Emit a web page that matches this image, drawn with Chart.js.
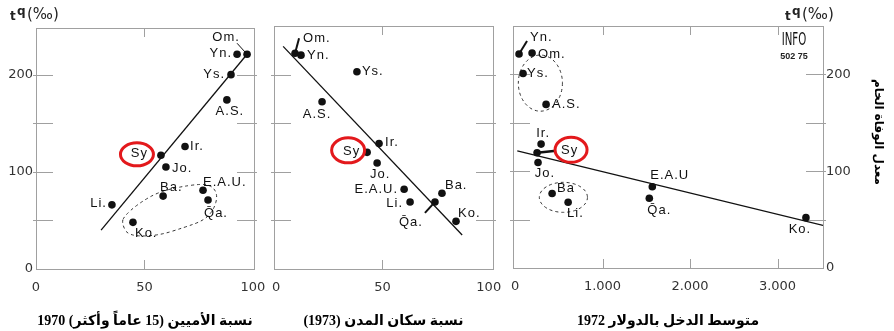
<!DOCTYPE html>
<html>
<head>
<meta charset="utf-8">
<title>معدل الوفاة الخام</title>
<script src="https://cdn.jsdelivr.net/npm/chart.js"></script>
<style>
  html, body { margin: 0; padding: 0; background: #fff; }
  body { width: 894px; height: 331px; position: relative; overflow: hidden; }
  canvas { position: absolute; top: 0; }
  #c1 { left: 0; }
  #c2 { left: 262px; }
  #c3 { left: 500px; }
</style>
</head>
<body>
<canvas id="c1" width="272" height="331"></canvas>
<canvas id="c2" width="246" height="331"></canvas>
<canvas id="c3" width="394" height="331"></canvas>
<script>
// البلدان (بنفس الترتيب في كل المصفوفات)
const countries = ['Om.', 'Yn.', 'Ys.', 'A.S.', 'Ir.', 'Sy', 'Jo.', 'Ba.', 'E.A.U.', 'Q\u0304a.', 'Li.', 'Ko.'];
const countries3 = ['Om.', 'Yn.', 'Ys.', 'A.S.', 'Ir.', 'Sy', 'Jo.', 'Ba', 'E.A.U', 'Q\u0304a.', 'Li.', 'Ko.'];

// نسبة الأميين 1970 / معدل الوفاة
const illiteracy1970 = [97.3, 92.7, 89.9, 88, 68.7, 57.6, 59.9, 58.6, 77, 79.3, 35, 44.7];
const deathRate1 = [221, 221, 200, 174, 126, 117, 105, 75, 81, 71, 66, 48];
const fitIlliteracy = [30, 97.3];
const fitIlliteracyRate = [40, 221];

// نسبة سكان المدن 1973
const urban1973 = [8.9, 11.7, 38, 21.6, 48.4, 42.8, 47.5, 78, 60.2, 74.7, 63, 84.6];
const deathRate2 = [222, 220, 203, 172, 129, 120, 109, 78, 82, 69, 69, 49];
const fitUrban = [3.3, 87.5];
const fitUrbanRate = [229, 35];

// متوسط الدخل بالدولار 1972
const income1972 = [195, 46, 92, 355, 298, 252, 263, 424, 1569, 1535, 607, 3325];
const deathRate3 = [222, 221, 201, 169, 128, 119, 109, 77, 84, 72, 68, 52];
const fitIncome = [26, 3520];
const fitIncomeRate = [121, 44];

// التدريجات
const rateTicks = [0, 50, 100, 150, 200];
const rateLabels = ['0', '', '100', '', '200'];
const percentTicks = [0, 50, 100];
const percentLabels = ['0', '50', '100'];
const incomeTicks = [0, 1000, 2000, 3000];
const incomeLabels = ['0', '1.000', '2.000', '3.000'];

const captions = [
  'نسبة الأميين (15 عاماً وأكثر) 1970',
  'نسبة سكان المدن (1973)',
  'متوسط الدخل بالدولار 1972'
];
const rateTitle = 'معدل الوفاة الخام';

// مواضع أسماء البلدان: [dx, dy, align]
const labelPos1 = [[-21,-17,'center'],[-5,-1,'right'],[-6,0,'right'],[3,12,'center'],[5,0,'left'],[-13,-2,'right'],
                   [6,1,'left'],[-3,-9,'left'],[0,-8,'left'],[-4,13,'left'],[-5,-1,'right'],[2,11,'left']];
const labelPos2 = [[8,-15,'left'],[6,0,'left'],[5,0,'left'],[-5,13,'center'],[6,-1,'left'],[-7,-1,'right'],
                   [3,11,'center'],[3,-8,'left'],[-6,0,'right'],[-24,20,'center'],[-7,1,'right'],[2,-8,'left']];
const labelPos3 = [[6,1,'left'],[11,-17,'left'],[4,0,'left'],[6,0,'left'],[2,-11,'center'],[24,-2,'left'],
                   [7,11,'center'],[5,-5,'left'],[-2,-11,'left'],[-2,12,'left'],[-1,11,'left'],[-6,12,'center']];

const panels = {
  c1: {
    names: countries, pos: labelPos1, xTicks: percentTicks,
    leaders: [[0, -10, -11, 1]],
    ring: [-24, -1, 16.5, 11.5],
    loops: [{ path: [[39.6,47],[42.4,34],[55.8,34],[68.7,43],[77.4,50],[82,61],[83.9,77],[80.2,87.5],[71,86.5],[57,80],[47,67],[40.5,54]] }],
    caption: 0, unitAt: 10
  },
  c2: {
    names: countries, pos: labelPos2, xTicks: percentTicks,
    leaders: [[0, 4, -15, 2], [9, -10, 11, 2]],
    ring: [-19, -2, 16.5, 12.5],
    loops: [],
    caption: 1
  },
  c3: {
    names: countries3, pos: labelPos3, xTicks: incomeTicks,
    leaders: [[1, 8, -13, 2], [5, 19, -2, 2.5]],
    ring: [34, -3, 16, 12.5],
    loops: [{ ellipse: [290, 191, 252, 29] }, { ellipse: [553, 73, 275, 15.5] }],
    caption: 2, unitAt: 285, stamp: true, sideTitle: true
  }
};

function smoothLoop(ctx, pts) {
  const n = pts.length;
  const mid = (a, b) => [(a[0] + b[0]) / 2, (a[1] + b[1]) / 2];
  let m = mid(pts[n - 1], pts[0]);
  ctx.moveTo(m[0], m[1]);
  for (let i = 0; i < n; i++) {
    const p = pts[i];
    const q = mid(p, pts[(i + 1) % n]);
    ctx.quadraticCurveTo(p[0], p[1], q[0], q[1]);
  }
  ctx.closePath();
}

const panelPlugin = {
  id: 'panel',
  beforeDatasetsDraw(chart) {
    const cfg = panels[chart.canvas.id];
    const { ctx, chartArea: a, scales: { x, y } } = chart;
    ctx.save();
    // الإطار
    ctx.strokeStyle = '#a0a0a0';
    ctx.lineWidth = 1;
    ctx.strokeRect(Math.round(a.left) + 0.5, Math.round(a.top) + 0.5, Math.round(a.right - a.left), Math.round(a.bottom - a.top));
    // علامات التدريج
    ctx.beginPath();
    rateTicks.forEach(v => {
      if (v === 0) return;
      const py = Math.round(y.getPixelForValue(v)) + 0.5;
      ctx.moveTo(a.left - 3, py); ctx.lineTo(a.left + 17, py);
      ctx.moveTo(a.right - 17, py); ctx.lineTo(a.right + 3, py);
    });
    cfg.xTicks.forEach(v => {
      const px = Math.round(x.getPixelForValue(v)) + 0.5;
      if (px < a.left + 4 || px > a.right - 4) return;
      ctx.moveTo(px, a.top); ctx.lineTo(px, a.top + 9);
      ctx.moveTo(px, a.bottom); ctx.lineTo(px, a.bottom - 9);
    });
    ctx.stroke();
    // الحلقات المنقطة
    ctx.setLineDash([3, 3]);
    ctx.strokeStyle = '#333';
    cfg.loops.forEach(l => {
      ctx.beginPath();
      if (l.path) {
        smoothLoop(ctx, l.path.map(p => [x.getPixelForValue(p[0]), y.getPixelForValue(p[1])]));
      } else {
        const [cx, cy, rx, ry] = l.ellipse;
        const px = x.getPixelForValue(cx), py = y.getPixelForValue(cy);
        ctx.ellipse(px, py, Math.abs(x.getPixelForValue(cx + rx) - px), Math.abs(y.getPixelForValue(cy + ry) - py), 0, 0, Math.PI * 2);
      }
      ctx.stroke();
    });
    ctx.restore();
  },
  afterDatasetsDraw(chart) {
    const cfg = panels[chart.canvas.id];
    const { ctx, chartArea: a } = chart;
    const pts = chart.getDatasetMeta(0).data;
    ctx.save();
    // خطوط الإشارة
    ctx.strokeStyle = '#111';
    cfg.leaders.forEach(([i, dx, dy, w]) => {
      const p = pts[i];
      ctx.lineWidth = w;
      ctx.beginPath();
      ctx.moveTo(p.x + dx, p.y + dy);
      ctx.lineTo(p.x, p.y);
      ctx.stroke();
    });
    // أسماء البلدان
    ctx.fillStyle = '#111';
    ctx.font = '13px "Liberation Sans", Arial, sans-serif';
    ctx.letterSpacing = '1px';
    ctx.textBaseline = 'middle';
    pts.forEach((p, i) => {
      const [dx, dy, al] = cfg.pos[i];
      ctx.textAlign = al;
      ctx.fillText(cfg.names[i], p.x + dx, p.y + dy);
    });
    ctx.letterSpacing = '0px';
    // دائرة حمراء حول سوريا
    const sy = pts[5];
    const [rdx, rdy, rx, ry] = cfg.ring;
    ctx.strokeStyle = '#e3191c';
    ctx.lineWidth = 3;
    ctx.beginPath();
    ctx.ellipse(sy.x + rdx, sy.y + rdy, rx, ry, 0, 0, Math.PI * 2);
    ctx.stroke();
    // العنوان السفلي
    ctx.fillStyle = '#000';
    ctx.font = 'bold 14px "Liberation Serif", "DejaVu Sans", serif';
    ctx.direction = 'rtl';
    ctx.textAlign = 'center';
    ctx.fillText(captions[cfg.caption], (a.left + a.right) / 2, 321);
    ctx.direction = 'ltr';
    // t q (‰)
    if (cfg.unitAt !== undefined) {
      const u = cfg.unitAt;
      ctx.textAlign = 'left';
      ctx.fillStyle = '#222';
      ctx.font = 'bold 12px "DejaVu Sans", sans-serif';
      ctx.fillText('t', u, 17);
      ctx.fillText('q', u + 7, 12);
      ctx.font = '15px "DejaVu Sans", sans-serif';
      ctx.fillText('(\u2030)', u + 17, 15);
    }
    if (cfg.stamp) {
      ctx.save();
      ctx.fillStyle = '#111';
      ctx.textAlign = 'center';
      ctx.translate(294, 41);
      ctx.scale(0.6, 1);
      ctx.font = '17px "DejaVu Sans", sans-serif';
      ctx.fillText('INFO', 0, 0);
      ctx.restore();
      ctx.font = 'bold 9px "Liberation Sans", sans-serif';
      ctx.textAlign = 'center';
      ctx.fillText('502 75', 294, 57);
    }
    if (cfg.sideTitle) {
      ctx.save();
      ctx.translate(378, 132);
      ctx.rotate(Math.PI / 2);
      ctx.direction = 'rtl';
      ctx.textAlign = 'center';
      ctx.font = 'bold 12px "DejaVu Sans", sans-serif';
      ctx.fillStyle = '#000';
      ctx.fillText(rateTitle, 0, 0);
      ctx.restore();
    }
    ctx.restore();
  }
};

const tickFont = { family: '"DejaVu Sans", sans-serif', size: 13 };

function pinWidth(w) { return s => { s.width = w; s.paddingTop = 0; s.paddingBottom = 0; }; }
function pinHeight(h) { return s => { s.height = h; s.paddingLeft = 0; s.paddingRight = 0; }; }
function setTicks(values) { return s => { s.ticks = values.map(v => ({ value: v })); }; }

function buildPanel(id, xs, ys, fx, fy, xScale, yScale, padding) {
  return new Chart(document.getElementById(id), {
    type: 'scatter',
    data: {
      datasets: [
        {
          data: xs.map((v, i) => ({ x: v, y: ys[i] })),
          pointRadius: 3.8,
          pointBackgroundColor: '#111',
          pointBorderWidth: 0
        },
        {
          data: fx.map((v, i) => ({ x: v, y: fy[i] })),
          showLine: true,
          borderColor: '#111',
          borderWidth: 1.3,
          pointRadius: 0
        }
      ]
    },
    options: {
      responsive: false,
      animation: false,
      events: [],
      layout: { padding },
      plugins: { legend: { display: false }, tooltip: { enabled: false } },
      scales: { x: xScale, y: yScale }
    },
    plugins: [panelPlugin]
  });
}

function xAxis(min, max, ticks, labels, height) {
  return {
    type: 'linear', min, max,
    afterBuildTicks: setTicks(ticks),
    afterFit: pinHeight(height),
    grid: { display: false, drawTicks: false },
    border: { display: false },
    ticks: {
      callback: (v, i) => labels[i],
      font: tickFont, color: '#333', padding: 11,
      maxRotation: 0, autoSkip: false
    }
  };
}

function yAxis(max, position, width, show) {
  return {
    type: 'linear', min: 0, max, position,
    display: show,
    afterBuildTicks: setTicks(rateTicks),
    afterFit: pinWidth(width),
    grid: { display: false, drawTicks: false },
    border: { display: false },
    ticks: {
      callback: (v, i) => rateLabels[i],
      font: tickFont, color: '#333', padding: 3,
      autoSkip: false
    }
  };
}

buildPanel('c1', illiteracy1970, deathRate1, fitIlliteracy, fitIlliteracyRate,
  xAxis(0, 100.5, percentTicks, percentLabels, 331 - 269),
  yAxis(248, 'left', 36, true),
  { left: 0, top: 28, right: 18, bottom: 0 });

buildPanel('c2', urban1973, deathRate2, fitUrban, fitUrbanRate,
  xAxis(-1, 102, percentTicks, percentLabels, 331 - 269),
  yAxis(250, 'left', 0, false),
  { left: 12, top: 26, right: 15, bottom: 0 });

buildPanel('c3', income1972, deathRate3, fitIncome, fitIncomeRate,
  xAxis(-23, 3520, incomeTicks, incomeLabels, 331 - 268),
  yAxis(250, 'right', 71, true),
  { left: 13, top: 26, right: 0, bottom: 0 });
</script>
</body>
</html>
